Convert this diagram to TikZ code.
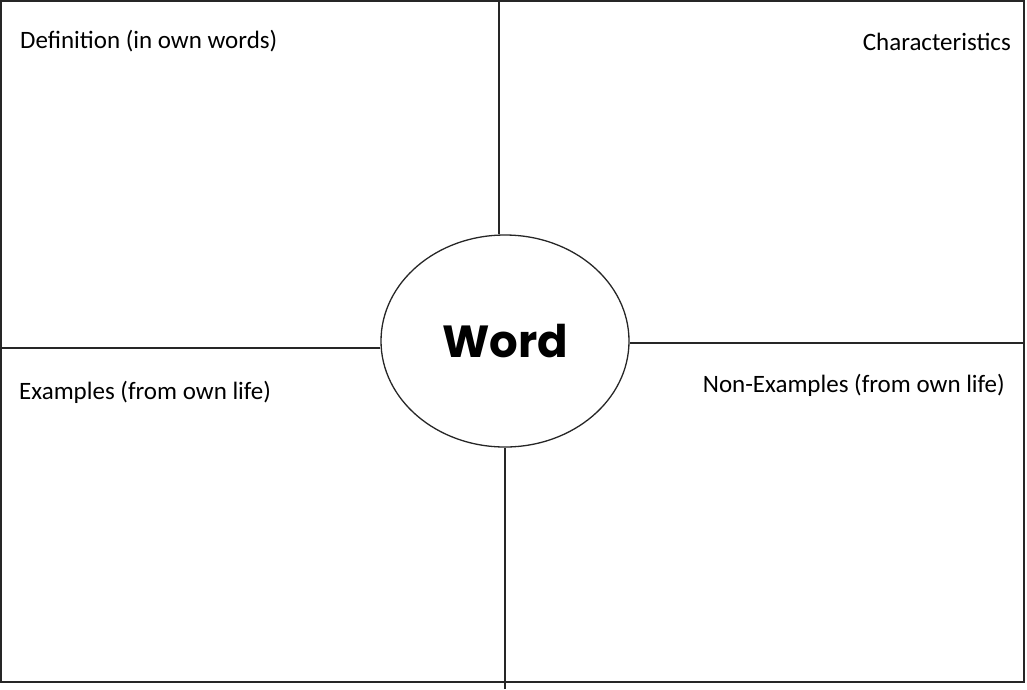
\documentclass[tikz,border=0pt]{standalone}
\usepackage{fontspec}
\setmainfont{Carlito}
\newfontfamily\wordfont{Poppins}
\usetikzlibrary{shapes.geometric}

\begin{document}
\begin{tikzpicture}[x=1pt,y=-1pt]
\useasboundingbox (0,0) rectangle (1027,689);
\tikzset{frame/.style={draw=black!85, line width=1.8pt},
  split/.style={draw=black!85, line width=1.3pt},
  label/.style={font=\fontsize{25}{30}\selectfont, inner sep=0pt}}
\draw[frame] (1,1) rectangle (1024,682);
\node[ellipse, split, minimum width=248pt, minimum height=212pt, inner sep=0pt,
  font=\wordfont\bfseries\fontsize{45}{52}\selectfont] (word) at (505,341) {Word};
% quadrant labels
\node[label, anchor=west] (def)  at (20,41)   {Definition (in own words)};
\node[label, anchor=east] (char) at (1011,42) {Characteristics};
\node[label, anchor=west] (ex)   at (19,392)  {Examples (from own life)};
\node[label, anchor=east] (nex)  at (1005,385) {Non-Examples (from own life)};
% dividing lines
\coordinate (top) at (499,1);
\coordinate (bot) at (505,689);
\coordinate (lft) at (1,348);
\coordinate (rgt) at (1024,343);
\draw[split] (top) -- (top |- word.north);
\draw[split] (bot) -- (bot |- word.south);
\draw[split] (lft) -- (word.west |- lft);
\draw[split] (rgt) -- (word.east |- rgt);
\end{tikzpicture}
\end{document}
